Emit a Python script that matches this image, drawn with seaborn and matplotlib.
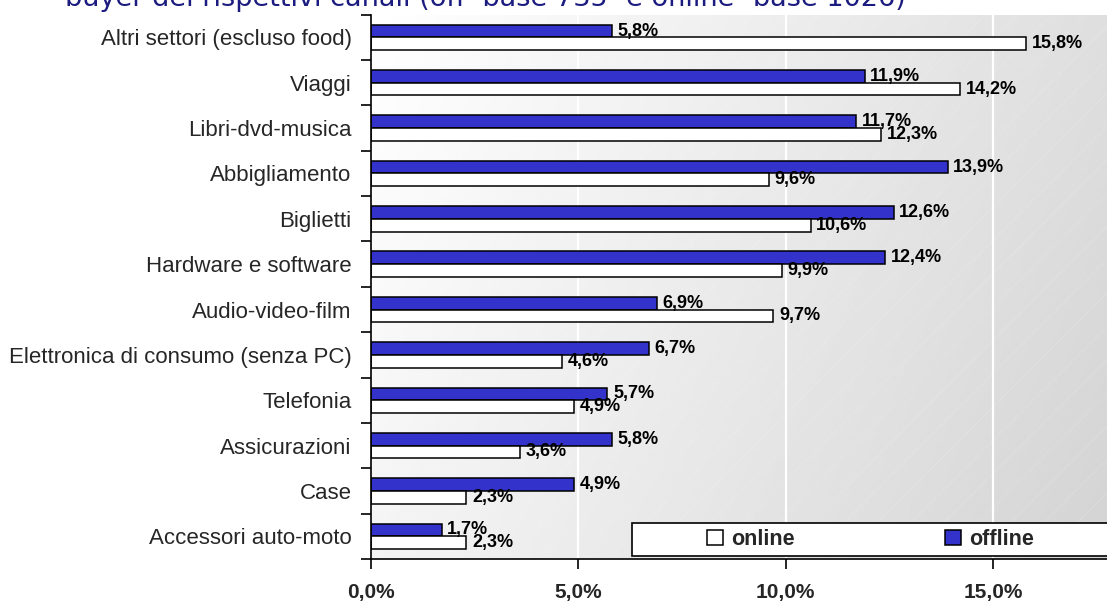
import numpy as np
import pandas as pd
import matplotlib
matplotlib.use("Agg")
import matplotlib.pyplot as plt
from matplotlib.patches import Rectangle
import seaborn as sns

# ---------------- data ----------------
categories = [
    "Altri settori (escluso food)",
    "Viaggi",
    "Libri-dvd-musica",
    "Abbigliamento",
    "Biglietti",
    "Hardware e software",
    "Audio-video-film",
    "Elettronica di consumo (senza PC)",
    "Telefonia",
    "Assicurazioni",
    "Case",
    "Accessori auto-moto",
]
offline = [5.8, 11.9, 11.7, 13.9, 12.6, 12.4, 6.9, 6.7, 5.7, 5.8, 4.9, 1.7]
online = [15.8, 14.2, 12.3, 9.6, 10.6, 9.9, 9.7, 4.6, 4.9, 3.6, 2.3, 2.3]
series = ["offline", "online"]
xticks = [0, 5, 10, 15]
xtick_labels = ["0,0%", "5,0%", "10,0%", "15,0%"]
title_text = "buyer dei rispettivi canali (off- base 735- e online- base 1026)"

# ---------------- style ----------------
sns.set_theme(style="white")
plt.rcParams["font.family"] = ["Liberation Sans", "DejaVu Sans"]
plt.rcParams["hatch.linewidth"] = 0.5

W, H = 1107, 603
fig = plt.figure(figsize=(W / 100, H / 100), dpi=100)
fig.patch.set_facecolor("white")

ax_left, ax_top, ax_bottom = 371, 14.7, 559
ax = fig.add_axes([ax_left / W, 1 - ax_bottom / H, (W - ax_left) / W, (ax_bottom - ax_top) / H])

df = pd.DataFrame({
    "categoria": categories * 2,
    "valore": offline + online,
    "canale": [series[0]] * len(categories) + [series[1]] * len(categories),
})

sns.barplot(
    data=df, y="categoria", x="valore", hue="canale", hue_order=series,
    palette={"offline": "#3333CC", "online": "#FFFFFF"}, saturation=1,
    orient="h", width=0.56, edgecolor="black", linewidth=1.1, ax=ax,
    zorder=3,
)

xmax = (W - ax_left) / (207.4 / 5)

# background gradient
grad_x = np.linspace(0, 1, 256)
grad_y = np.linspace(0, 1, 64)
GX, GY = np.meshgrid(grad_x, grad_y)
vals = 1.0 - 0.17 * (0.75 * GX + 0.25 * GY)
ax.imshow(vals, extent=[0, xmax, len(categories) - 0.5, -0.5], aspect="auto",
          cmap="gray", vmin=0, vmax=1, zorder=0, interpolation="bilinear")
ax.add_patch(Rectangle((0, 0), 1, 1, transform=ax.transAxes, facecolor="none",
                       edgecolor=(1, 1, 1, 0.2), hatch="/", lw=0, zorder=0.5))
ax.set_xlim(0, xmax)
ax.set_ylim(len(categories) - 0.5, -0.5)

# vertical white gridlines
for xv in xticks[1:]:
    ax.axvline(xv, color="white", lw=1.6, zorder=1)

# labels on bars
for cont, vals_ in zip(ax.containers, [offline, online]):
    labs = [f"{v:.1f}".replace(".", ",") + "%" for v in vals_]
    ax.bar_label(cont, labels=labs, padding=4, fontsize=13, fontweight="bold",
                 color="black", zorder=5)

# axes styling
for s in ["top", "right"]:
    ax.spines[s].set_visible(False)
for s in ["left", "bottom"]:
    ax.spines[s].set_color("black")
    ax.spines[s].set_linewidth(1.2)
    ax.spines[s].set_zorder(6)

ax.set_xticks(xticks)
ax.set_xticklabels(xtick_labels, fontsize=15, fontweight="bold")
ax.tick_params(axis="x", which="major", direction="out", length=7, width=1.2,
               color="black", pad=10, bottom=True)
ax.set_yticks(range(len(categories)))
ax.set_yticklabels(categories, fontsize=16)
ax.tick_params(axis="y", which="major", length=0, pad=14)
ax.set_yticks(np.arange(-0.5, len(categories) + 0.5, 1), minor=True)
ax.tick_params(axis="y", which="minor", direction="out", length=7, width=1.2,
               color="black", left=True)
ax.set_xlabel("")
ax.set_ylabel("")

# legend
handles, labels = ax.get_legend_handles_labels()
hmap = dict(zip(labels, handles))
if ax.get_legend() is not None:
    ax.get_legend().remove()
frame = Rectangle((632 / W, 1 - 556 / H), 0.5, 33 / H, transform=fig.transFigure,
                  facecolor="white", edgecolor="black", lw=1.2, zorder=7)
fig.patches.append(frame)
leg = fig.legend(
    handles=[hmap["online"], hmap["offline"]], labels=["online", "offline"],
    ncol=2, loc="center left", bbox_to_anchor=(707 / W, 1 - 539.5 / H),
    frameon=False, prop={"weight": "bold", "size": 15.5},
    handlelength=0.75, handleheight=0.75, handletextpad=0.35,
    columnspacing=7.0, borderpad=0, borderaxespad=0,
)
leg.set_zorder(8)

# title (cut at the top edge as in the reference)
fig.text(65 / W, 1 - 6 / H, title_text, color="#1B1B80", fontsize=19.5,
         family=["DejaVu Sans"], ha="left", va="baseline")

fig.savefig("out.png", dpi=100, facecolor="white")
